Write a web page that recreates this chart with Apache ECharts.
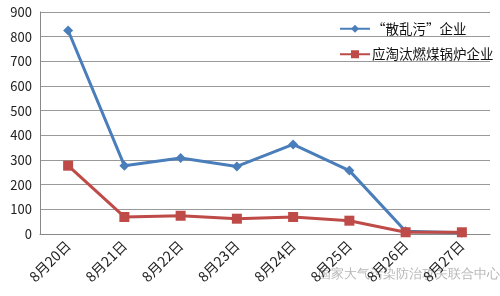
<!DOCTYPE html>
<html>
<head>
<meta charset="utf-8">
<script src="https://cdn.jsdelivr.net/npm/echarts@6/dist/echarts.min.js"></script>
<style>html,body{margin:0;padding:0;background:#fff;}#chart{width:500px;height:296px;}</style>
</head>
<body>
<div id="chart"></div>
<script>
  const days = ['8月20日', '8月21日', '8月22日', '8月23日', '8月24日', '8月25日', '8月26日', '8月27日'];
  const sanluanwu = [825, 277, 308, 274, 363, 257, 11, 5];
  const guolu = [277, 69, 74, 62, 69, 54, 7, 7];
  const yTicks = { min: 0, max: 900, interval: 100 };

  const chart = echarts.init(document.getElementById('chart'));

  const option = {
    animation: false,
    textStyle: { fontFamily: 'Noto Sans CJK SC, DejaVu Sans, sans-serif' },
    grid: { left: 40, right: 10, top: 12, bottom: 62 },
    legend: {
      orient: 'vertical',
      left: 334,
      top: 17,
      itemWidth: 30,
      itemHeight: 10,
      itemGap: 12,
      textStyle: { fontSize: 13.5, color: '#111', padding: [0, 0, 0, -3] },
      data: ['“散乱污”企业', '应淘汰燃煤锅炉企业']
    },
    xAxis: {
      type: 'category',
      data: days,
      boundaryGap: true,
      axisLine: { lineStyle: { color: '#888' } },
      axisTick: { length: 5, lineStyle: { color: '#888' } },
      axisLabel: { rotate: 45, fontSize: 14, color: '#222', margin: 9 }
    },
    yAxis: {
      type: 'value',
      min: yTicks.min,
      max: yTicks.max,
      interval: yTicks.interval,
      axisLine: { show: true, lineStyle: { color: '#888' } },
      axisTick: { show: false },
      axisLabel: { fontSize: 13, color: '#222', margin: 8 },
      splitLine: { lineStyle: { color: '#999', width: 1 } }
    },
    series: [
      {
        name: '“散乱污”企业',
        type: 'line',
        data: sanluanwu,
        symbol: 'diamond',
        symbolSize: 10,
        lineStyle: { color: '#4a7ebb', width: 3 },
        itemStyle: { color: '#4a7ebb' }
      },
      {
        name: '应淘汰燃煤锅炉企业',
        type: 'line',
        data: guolu,
        symbol: 'rect',
        symbolSize: 10,
        lineStyle: { color: '#be4b48', width: 3 },
        itemStyle: { color: '#be4b48' }
      }
    ],
    graphic: [
      {
        type: 'text',
        left: 318,
        top: 268,
        style: { text: '国家大气污染防治攻关联合中心', fontSize: 13, fill: 'rgba(120,120,120,0.55)' }
      }
    ]
  };

  chart.setOption(option);

  window.addEventListener('resize', function () {
    chart.resize();
  });
</script>
</body>
</html>
